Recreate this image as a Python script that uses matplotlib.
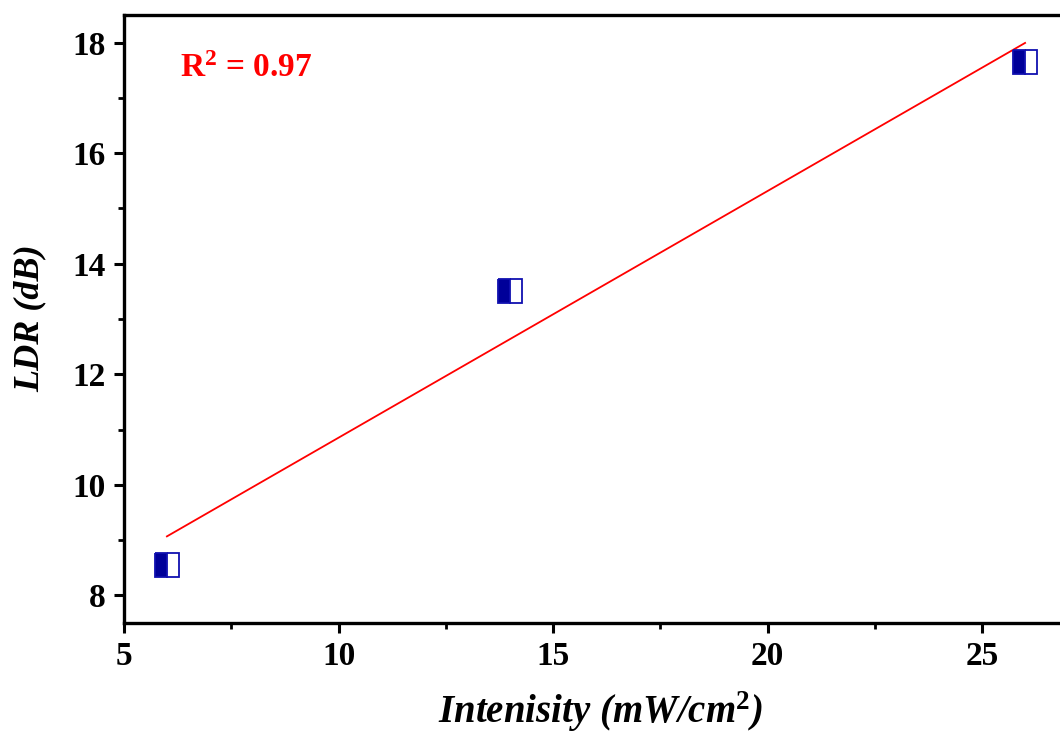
import numpy as np
import matplotlib
matplotlib.use("Agg")
import matplotlib.pyplot as plt
from matplotlib.ticker import MultipleLocator

intensity = [6, 14, 26]
ldr = [8.55, 13.5, 17.65]
r2_text = "R$^2$ = 0.97"
xlabel = "Intenisity (mW/cm$^2$)"
ylabel = "LDR (dB)"

plt.rcParams['font.family'] = ['Liberation Serif', 'DejaVu Serif']
plt.rcParams['mathtext.fontset'] = 'custom'
plt.rcParams['mathtext.rm'] = 'Liberation Serif:bold'
plt.rcParams['mathtext.it'] = 'Liberation Serif:bold:italic'
plt.rcParams['mathtext.bf'] = 'Liberation Serif:bold'

fig = plt.figure(figsize=(10.6, 7.36), dpi=100)
ax = fig.add_axes([124/1060, (736-623)/736, (1068-124)/1060, (623-15)/736])

coef = np.polyfit(intensity, ldr, 1)
xf = np.array([min(intensity), max(intensity)])
ax.plot(xf, np.polyval(coef, xf), color='red', lw=1.3, zorder=2)

ax.plot(intensity, ldr, linestyle='none', marker='s', markersize=17,
        fillstyle='left', markerfacecolor='#000099', markerfacecoloralt='white',
        markeredgecolor='#1010b0', markeredgewidth=1.3, zorder=3)

ax.set_xlim(5, 27)
ax.set_ylim(7.5, 18.5)
ax.xaxis.set_major_locator(MultipleLocator(5))
ax.xaxis.set_minor_locator(MultipleLocator(2.5))
ax.yaxis.set_major_locator(MultipleLocator(2))
ax.yaxis.set_minor_locator(MultipleLocator(1))

for s in ax.spines.values():
    s.set_linewidth(2.4)
ax.tick_params(which='major', direction='out', length=7, width=2.2, labelsize=24, pad=6)
ax.tick_params(which='minor', direction='out', length=4, width=2.0)
for lab in ax.get_xticklabels() + ax.get_yticklabels():
    lab.set_fontweight('bold')

fig.text(180/1060, 1 - 77/736, r2_text, color='red', fontsize=24,
         fontweight='bold', va='baseline', ha='left')

fig.text(600/1060, 1 - 712/736, xlabel, ha='center', va='center',
         fontsize=28, fontweight='bold', style='italic')
fig.text(30/1060, 1 - 318/736, ylabel, ha='center', va='center', rotation=90,
         fontsize=26, fontweight='bold', style='italic')

fig.savefig("out.png", dpi=100)
